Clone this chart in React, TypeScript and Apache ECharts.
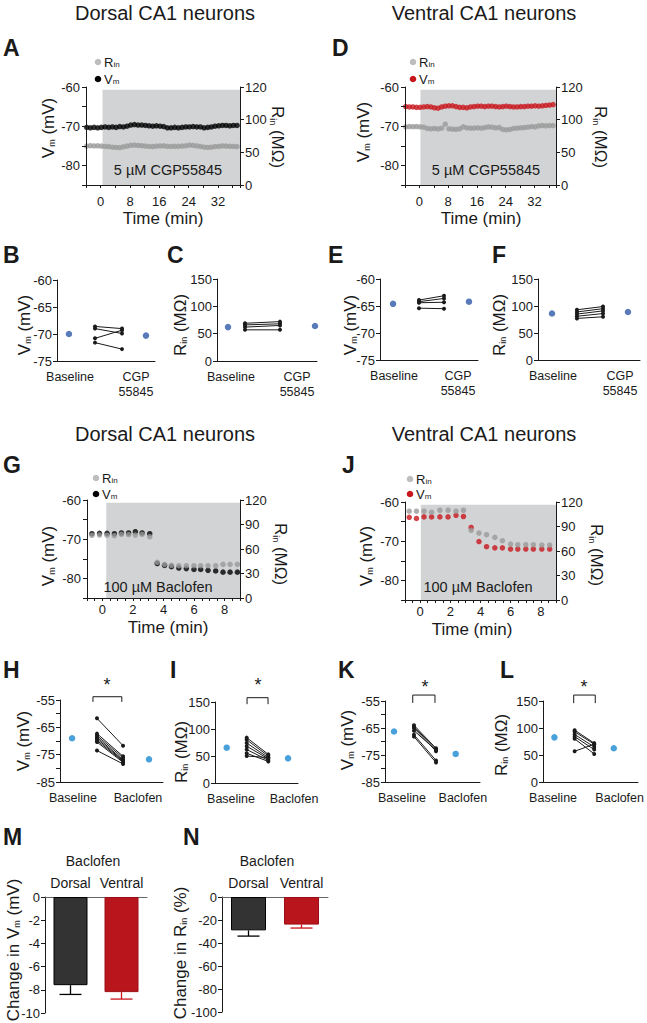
import React, { useEffect, useRef } from "react";
import * as echarts from "echarts";

const FONT = "'Liberation Sans', Arial, Helvetica, sans-serif";
const INK = "#1a1a1a";
const SHADE = "#d1d3d4";
const GRAY = "#9a9a9a";
const LEG_GRAY = "#bdbdbd";
const RED = "#c8161d";
const BLUE_CGP = "#2f5aa8";
const BLUE_BAC = "#1b8ad3";
const BAR_DARK = "#333333";
const BAR_RED = "#b9151c";

// ---------- Panels A / D (CGP55845 time course) ----------
const timesAD = [-3.8, -2.8, -1.8, -0.8, 0.2, 1.2, 2.2, 3.2, 4.2, 5.2, 6.2, 7.2, 8.2, 9.2, 10.2, 11.2, 12.2, 13.2, 14.2, 15.2, 16.2, 17.2, 18.2, 19.2, 20.2, 21.2, 22.2, 23.2, 24.2, 25.2, 26.2, 27.2, 28.2, 29.2, 30.2, 31.2, 32.2, 33.2, 34.2, 35.2, 36.2, 37.2];
const vmA = [-70.3, -70.4, -70.3, -70.4, -70.3, -70.2, -70.3, -70.2, -70.3, -70.1, -70.2, -70.0, -69.7, -69.6, -69.7, -69.7, -69.8, -69.9, -70.0, -69.9, -70.0, -70.1, -70.4, -70.4, -70.3, -70.4, -70.3, -70.2, -70.2, -70.1, -70.2, -70.2, -70.4, -70.3, -70.2, -70.0, -69.9, -69.8, -69.8, -69.9, -69.8, -69.8];
const rinA = [59.5, 60.2, 59.8, 60.0, 59.5, 59.0, 58.8, 57.8, 57.5, 57.3, 58.5, 59.5, 60.8, 61.0, 60.5, 60.2, 59.6, 59.0, 58.8, 59.4, 59.8, 60.0, 59.2, 59.0, 59.3, 59.1, 59.5, 60.0, 61.0, 60.5, 59.8, 59.0, 57.8, 57.5, 57.9, 58.8, 59.0, 59.8, 59.5, 59.3, 59.0, 58.9];
const vmD = [-65.0, -65.1, -65.1, -65.2, -65.2, -65.1, -65.0, -65.1, -65.3, -65.4, -65.1, -64.9, -64.8, -64.8, -65.0, -65.2, -65.2, -65.3, -65.1, -65.0, -64.9, -64.9, -65.0, -64.9, -64.9, -65.0, -65.1, -65.0, -64.9, -65.0, -65.1, -65.1, -65.0, -65.0, -64.9, -64.9, -64.8, -64.9, -64.8, -64.7, -64.6, -64.5];
const rinD = [89.0, 89.5, 89.3, 89.5, 89.0, 88.5, 86.5, 86.0, 86.5, 85.8, 87.0, 93.0, 86.0, 85.5, 85.2, 86.0, 89.0, 87.5, 87.0, 87.2, 87.5, 87.0, 88.0, 89.0, 88.5, 87.5, 88.0, 85.0, 84.5, 85.0, 86.5, 87.0, 87.5, 88.0, 88.5, 89.5, 89.0, 90.5, 91.0, 90.5, 91.0, 91.0];

// ---------- Panels G / J (Baclofen time course) ----------
const timesG = [-0.68, -0.18, 0.31, 0.79, 1.25, 1.72, 2.16, 2.6, 3.1, 3.59, 4.07, 4.52, 5.0, 5.49, 5.99, 6.43, 6.91, 7.41, 7.89, 8.35, 8.83];
const vmG = [-68.6, -68.5, -68.5, -68.6, -68.4, -68.4, -68.1, -68.4, -68.6, -76.2, -76.7, -77.0, -77.35, -77.5, -77.7, -77.7, -77.95, -78.1, -78.4, -78.4, -78.4];
const rinG = [76.8, 77.1, 76.8, 76.3, 78.0, 77.5, 77.1, 78.0, 75.0, 43.7, 41.2, 40.0, 39.6, 39.6, 39.6, 39.6, 39.6, 39.6, 41.2, 41.2, 41.2];
const timesJ = [-0.72, -0.24, 0.26, 0.76, 1.31, 1.85, 2.38, 2.87, 3.38, 3.9, 4.4, 4.95, 5.45, 5.99, 6.47, 7.0, 7.5, 8.06, 8.58];
const vmJ = [-63.9, -64.2, -63.8, -63.8, -63.8, -63.8, -63.4, -63.7, -66.5, -70.1, -71.4, -71.7, -71.7, -72.0, -72.0, -72.0, -72.0, -72.0, -72.0];
const rinJ = [108.7, 108.7, 108.7, 107.5, 109.9, 109.9, 108.7, 109.9, 85.3, 82.0, 80.0, 76.7, 72.6, 68.5, 67.7, 67.7, 67.7, 67.3, 67.3];

// ---------- Paired panels ----------
const cgpLabels = ["Baseline", "CGP\n55845"];
const bacLabels = ["Baseline", "Baclofen"];
const vmBBase = [-68.6, -69.0, -70.8, -71.6];
const vmBDrug = [-69.0, -69.9, -69.3, -72.8];
const vmBMeans = [-70.0, -70.3];
const rinCBase = [69, 66, 62, 57];
const rinCDrug = [72, 68, 65, 57];
const rinCMeans = [62, 64];
const vmEBase = [-63.9, -64.2, -64.4, -65.4];
const vmEDrug = [-63.1, -63.6, -64.3, -65.5];
const vmEMeans = [-64.6, -64.2];
const rinFBase = [93, 89, 85, 81, 77];
const rinFDrug = [99, 95, 91, 86, 80];
const rinFMeans = [86, 89];
const vmHBase = [-61.7, -67.3, -68.0, -68.6, -69.2, -69.8, -70.4, -73.5];
const vmHDrug = [-71.7, -75.6, -76.2, -76.9, -77.2, -77.5, -77.8, -78.4];
const vmHMeans = [-69.0, -76.7];
const rinIBase = [84, 80, 74, 68, 62, 55, 50];
const rinIDrug = [53, 50, 47, 45, 42, 40, 47];
const rinIMeans = [65.4, 45.7];
const vmKBase = [-64.0, -64.5, -65.0, -66.0, -67.5, -68.2];
const vmKDrug = [-72.5, -73.0, -73.6, -73.2, -77.0, -77.8];
const vmKMeans = [-66.3, -74.6];
const rinLBase = [96, 93, 88, 84, 80, 57];
const rinLDrug = [72, 70, 65, 60, 52, 70];
const rinLMeans = [82.7, 62.5];

// ---------- Bar panels ----------
const barCats = ["Dorsal", "Ventral"];
const dVmMeans = [-7.6, -8.2];
const dVmErr = [0.8, 0.6];
const dRinMeans = [-29, -24];
const dRinErr = [5, 3];

function buildOption() {
  const grid: any[] = [];
  const xAxis: any[] = [];
  const yAxis: any[] = [];
  const series: any[] = [];
  const graphic: any[] = [];

  const axLine = { show: true, onZero: false, lineStyle: { color: INK, width: 1 } };
  const tick = (len = 4) => ({ show: true, length: len, lineStyle: { color: INK, width: 1 } });
  const lbl = (extra: any = {}) => ({ color: INK, fontFamily: FONT, fontSize: 13, ...extra });

  const rich = (size: number) => ({
    a: { fontSize: size, fontFamily: FONT, fill: INK, color: INK, lineHeight: size },
    s: {
      fontSize: Math.max(8, Math.round(size * 0.55)),
      fontFamily: FONT,
      fill: "#222222",
      color: "#222222",
      verticalAlign: "bottom",
      lineHeight: 2,
    },
  });
  const txt = (x: number, y: number, text: string, o: any = {}) => {
    graphic.push({
      type: "text",
      x,
      y,
      rotation: o.rot || 0,
      silent: true,
      z: 100,
      style: {
        text,
        fill: INK,
        fontFamily: FONT,
        fontSize: o.size || 13,
        fontWeight: o.weight || "normal",
        align: o.align || "center",
        verticalAlign: "middle",
        rich: o.rich ? rich(o.size || 13) : undefined,
      },
    });
  };
  const dot = (x: number, y: number, color: string) => {
    graphic.push({ type: "circle", x, y, silent: true, z: 100, shape: { r: 3.3 }, style: { fill: color } });
  };

  function timePanel(c: any) {
    const g = grid.push({ left: c.left, top: c.top, width: c.width, height: c.height }) - 1;
    const xi =
      xAxis.push({
        type: "value",
        gridIndex: g,
        min: c.xMin,
        max: c.xMax,
        interval: c.xInterval,
        axisLine: axLine,
        axisTick: tick(3),
        axisLabel: lbl({
          margin: c.xMargin,
          formatter: (v: number) => (v >= 0 && v % c.xStep === 0 && v <= c.xLast ? String(v) : ""),
        }),
        splitLine: { show: false },
        z: 5,
      }) - 1;
    const yl =
      yAxis.push({
        type: "value",
        gridIndex: g,
        position: "left",
        min: -85,
        max: -60,
        interval: 5,
        axisLine: axLine,
        axisTick: tick(4),
        axisLabel: lbl({ margin: 6, formatter: (v: number) => (v % 10 === 0 ? String(v) : "") }),
        splitLine: { show: false },
        z: 5,
      }) - 1;
    const yr =
      yAxis.push({
        type: "value",
        gridIndex: g,
        position: "right",
        min: 0,
        max: c.rMax,
        interval: c.rInterval,
        axisLine: axLine,
        axisTick: tick(4),
        axisLabel: lbl({ margin: 5, formatter: c.rFormat }),
        splitLine: { show: false },
        z: 5,
      }) - 1;
    series.push({
      type: "scatter",
      xAxisIndex: xi,
      yAxisIndex: yl,
      data: [],
      z: 1,
      silent: true,
      markArea: {
        silent: true,
        itemStyle: { color: SHADE },
        data: [[{ coord: [c.shadeStart, -60.7] }, { coord: [c.xMax, -85] }]],
      },
    });
    series.push({
      type: "scatter",
      xAxisIndex: xi,
      yAxisIndex: yl,
      data: c.times.map((t: number, i: number) => [t, c.vm[i]]),
      symbolSize: 5.5,
      itemStyle: { color: c.vmColor },
      z: 3,
    });
    series.push({
      type: "scatter",
      xAxisIndex: xi,
      yAxisIndex: yr,
      data: c.times.map((t: number, i: number) => [t, c.rin[i]]),
      symbolSize: 5.5,
      itemStyle: { color: GRAY },
      z: 4,
    });
  }

  function pairPanel(c: any) {
    const g = grid.push({ left: c.left, top: c.top, width: c.width, height: c.height }) - 1;
    const xi =
      xAxis.push({
        type: "value",
        gridIndex: g,
        min: 0,
        max: 100,
        axisLine: axLine,
        axisTick: { show: false },
        axisLabel: lbl({
          fontSize: 12.5,
          lineHeight: 15,
          margin: 8,
          customValues: c.labelX,
          formatter: (v: number) => {
            const k = c.labelX.indexOf(v);
            return k >= 0 ? c.labels[k] : "";
          },
        }),
        splitLine: { show: false },
      }) - 1;
    const yi =
      yAxis.push({
        type: "value",
        gridIndex: g,
        min: c.yMin,
        max: c.yMax,
        interval: c.yInterval,
        axisLine: axLine,
        axisTick: tick(4),
        axisLabel: lbl({ margin: 5, formatter: c.yFormat || ((v: number) => String(v)) }),
        splitLine: { show: false },
      }) - 1;
    c.base.forEach((b: number, i: number) => {
      series.push({
        type: "line",
        xAxisIndex: xi,
        yAxisIndex: yi,
        data: [
          [c.pairX[0], b],
          [c.pairX[1], c.drug[i]],
        ],
        symbol: "circle",
        symbolSize: 4,
        showSymbol: true,
        lineStyle: { color: INK, width: 1 },
        itemStyle: { color: INK },
        clip: false,
        z: 3,
      });
    });
    series.push({
      type: "scatter",
      xAxisIndex: xi,
      yAxisIndex: yi,
      data: [
        [c.meanX[0], c.means[0]],
        [c.meanX[1], c.means[1]],
      ],
      symbolSize: 6.5,
      itemStyle: { color: c.blue },
      z: 4,
    });
    if (c.bracket) {
      const b = c.bracket;
      series.push({
        type: "line",
        xAxisIndex: xi,
        yAxisIndex: yi,
        data: [
          [b.x0, b.low],
          [b.x0, b.high],
          [b.x1, b.high],
          [b.x1, b.low],
        ],
        symbol: "none",
        lineStyle: { color: INK, width: 1 },
        clip: false,
        z: 3,
      });
    }
  }

  function barPanel(c: any) {
    const g = grid.push({ left: c.left, top: c.top, width: c.width, height: c.height }) - 1;
    const xi =
      xAxis.push({
        type: "category",
        gridIndex: g,
        data: barCats,
        position: "top",
        axisLine: { show: true, onZero: true, lineStyle: { color: "#666", width: 1 } },
        axisTick: { show: false },
        axisLabel: lbl({ fontSize: 14, margin: 7, interval: 0 }),
        splitLine: { show: false },
      }) - 1;
    const yi =
      yAxis.push({
        type: "value",
        gridIndex: g,
        min: c.yMin,
        max: 0,
        interval: c.yInterval,
        axisLine: axLine,
        axisTick: tick(4),
        axisLabel: lbl({ margin: 5 }),
        splitLine: { show: false },
      }) - 1;
    const fills = [BAR_DARK, BAR_RED];
    const borders = ["#000000", "#9a1016"];
    series.push({
      type: "bar",
      xAxisIndex: xi,
      yAxisIndex: yi,
      barWidth: c.barWidth,
      data: c.means.map((m: number, i: number) => ({
        value: m,
        itemStyle: { color: fills[i], borderColor: borders[i], borderWidth: 1 },
      })),
      z: 2,
    });
    const errColors = ["#000000", RED];
    series.push({
      type: "custom",
      xAxisIndex: xi,
      yAxisIndex: yi,
      data: c.means.map((m: number, i: number) => [i, m, c.errs[i]]),
      z: 3,
      renderItem: (params: any, api: any) => {
        const i = api.value(0);
        const m = api.value(1);
        const e = api.value(2);
        const p0 = api.coord([i, m]);
        const p1 = api.coord([i, m - e]);
        const st = { stroke: errColors[i], lineWidth: 1.3 };
        return {
          type: "group",
          children: [
            { type: "line", shape: { x1: p0[0], y1: p0[1], x2: p1[0], y2: p1[1] }, style: st },
            { type: "line", shape: { x1: p1[0] - 11, y1: p1[1], x2: p1[0] + 11, y2: p1[1] }, style: st },
          ],
        };
      },
    });
  }

  // ---- Time-course panels ----
  const rFmtAD = (v: number) => (v === 150 ? "120" : String(v));
  timePanel({
    left: 86, top: 87, width: 154, height: 98,
    xMin: -4, xMax: 38, xInterval: 4, xStep: 8, xLast: 32, xMargin: 10,
    rMax: 150, rInterval: 50, rFormat: rFmtAD,
    times: timesAD, vm: vmA, rin: rinA, vmColor: "#000000", shadeStart: 0.5,
  });
  timePanel({
    left: 405, top: 87, width: 151, height: 98,
    xMin: -4, xMax: 38, xInterval: 4, xStep: 8, xLast: 32, xMargin: 10,
    rMax: 150, rInterval: 50, rFormat: rFmtAD,
    times: timesAD, vm: vmD, rin: rinD, vmColor: RED, shadeStart: 0.3,
  });
  timePanel({
    left: 87, top: 500, width: 153, height: 98,
    xMin: -1, xMax: 9, xInterval: 0.5, xStep: 2, xLast: 8, xMargin: 5,
    rMax: 120, rInterval: 30, rFormat: (v: number) => String(v),
    times: timesG, vm: vmG, rin: rinG, vmColor: "#000000", shadeStart: 0.26,
  });
  timePanel({
    left: 405, top: 502, width: 151, height: 98,
    xMin: -1, xMax: 9, xInterval: 0.5, xStep: 2, xLast: 8, xMargin: 5,
    rMax: 120, rInterval: 30, rFormat: (v: number) => String(v),
    times: timesJ, vm: vmJ, rin: rinJ, vmColor: RED, shadeStart: 0.05,
  });

  // ---- Paired panels ----
  pairPanel({
    left: 57, top: 280, width: 98, height: 81, yMin: -75, yMax: -60, yInterval: 5,
    labels: cgpLabels, labelX: [13.3, 80.6], pairX: [38.8, 66.3], meanX: [12.2, 90.8],
    base: vmBBase, drug: vmBDrug, means: vmBMeans, blue: BLUE_CGP,
  });
  pairPanel({
    left: 217, top: 279, width: 100, height: 82, yMin: 0, yMax: 150, yInterval: 50,
    labels: cgpLabels, labelX: [14, 80], pairX: [28, 63], meanX: [11, 98],
    base: rinCBase, drug: rinCDrug, means: rinCMeans, blue: BLUE_CGP,
  });
  pairPanel({
    left: 380, top: 279, width: 98, height: 81, yMin: -75, yMax: -60, yInterval: 5,
    labels: cgpLabels, labelX: [14.3, 79.6], pairX: [39.8, 65.3], meanX: [13.3, 90.8],
    base: vmEBase, drug: vmEDrug, means: vmEMeans, blue: BLUE_CGP,
  });
  pairPanel({
    left: 538, top: 279, width: 102, height: 81, yMin: 0, yMax: 150, yInterval: 50,
    labels: cgpLabels, labelX: [14.7, 80.4], pairX: [38.2, 63.7], meanX: [13.7, 88.2],
    base: rinFBase, drug: rinFDrug, means: rinFMeans, blue: BLUE_CGP,
  });
  const vmFmt = (v: number) => ((v + 55) % 10 === 0 ? String(v) : "");
  pairPanel({
    left: 60, top: 700, width: 103, height: 82, yMin: -85, yMax: -55, yInterval: 5, yFormat: vmFmt,
    labels: bacLabels, labelX: [12.6, 75.7], pairX: [35.9, 61.2], meanX: [11.7, 86.4],
    base: vmHBase, drug: vmHDrug, means: vmHMeans, blue: BLUE_BAC,
    bracket: { x0: 32, x1: 60, low: -55.7, high: -53.8 },
  });
  pairPanel({
    left: 215, top: 702, width: 83, height: 81, yMin: 0, yMax: 150, yInterval: 50,
    labels: bacLabels, labelX: [19.3, 95.2], pairX: [38.2, 64.2], meanX: [14.1, 88],
    base: rinIBase, drug: rinIDrug, means: rinIMeans, blue: BLUE_BAC,
    bracket: { x0: 38.6, x1: 63.9, low: 146, high: 158 },
  });
  pairPanel({
    left: 385, top: 701, width: 95, height: 81, yMin: -85, yMax: -55, yInterval: 5, yFormat: vmFmt,
    labels: bacLabels, labelX: [17.9, 82], pairX: [30.5, 53.7], meanX: [9.5, 74.4],
    base: vmKBase, drug: vmKDrug, means: vmKMeans, blue: BLUE_BAC,
    bracket: { x0: 29.2, x1: 52.6, low: -55.7, high: -52.8 },
  });
  pairPanel({
    left: 543, top: 701, width: 97, height: 81, yMin: 0, yMax: 150, yInterval: 50,
    labels: bacLabels, labelX: [10.6, 80.7], pairX: [33.3, 53.9], meanX: [12, 74.5],
    base: rinLBase, drug: rinLDrug, means: rinLMeans, blue: BLUE_BAC,
    bracket: { x0: 32.3, x1: 55, low: 146, high: 161 },
  });

  // ---- Bar panels ----
  barPanel({ left: 45, top: 897, width: 102, height: 116, yMin: -10, yInterval: 2, barWidth: 34, means: dVmMeans, errs: dVmErr });
  barPanel({ left: 222, top: 897, width: 106, height: 115, yMin: -100, yInterval: 20, barWidth: 35, means: dRinMeans, errs: dRinErr });

  // ---- Texts ----
  txt(165, 13, "Dorsal CA1 neurons", { size: 20 });
  txt(484, 13, "Ventral CA1 neurons", { size: 20 });
  txt(165, 434, "Dorsal CA1 neurons", { size: 20 });
  txt(484, 434, "Ventral CA1 neurons", { size: 20 });

  const letters: [string, number, number][] = [
    ["A", 3, 48], ["D", 332, 48], ["B", 3, 255], ["C", 167, 255], ["E", 328, 255], ["F", 492, 255],
    ["G", 3, 465], ["J", 342, 465], ["H", 3, 670], ["I", 170, 670], ["K", 338, 670], ["L", 500, 670],
    ["M", 3, 837], ["N", 183, 837],
  ];
  letters.forEach(([t, x, y]) => txt(x, y, t, { size: 23, weight: "bold", align: "left" }));

  // time axis titles
  txt(163, 218, "Time (min)", { size: 17 });
  txt(481, 218, "Time (min)", { size: 17 });
  txt(168, 627, "Time (min)", { size: 17 });
  txt(472, 629, "Time (min)", { size: 17 });

  // drug texts inside shading
  txt(168, 170, "5 µM CGP55845", { size: 14.5 });
  txt(486, 170, "5 µM CGP55845", { size: 14.5 });
  txt(158, 587, "100 µM Baclofen", { size: 14.5 });
  txt(478, 587, "100 µM Baclofen", { size: 14.5 });

  const VM = "{a|V}{s|m}{a| (mV)}";
  const RIN = "{a|R}{s|in}{a| (MΩ)}";
  const up = Math.PI / 2;
  const down = -Math.PI / 2;
  // time panels
  txt(48, 128, VM, { size: 17, rich: true, rot: up });
  txt(277, 137, RIN, { size: 17, rich: true, rot: down });
  txt(363, 132, VM, { size: 17, rich: true, rot: up });
  txt(600, 137, RIN, { size: 17, rich: true, rot: down });
  txt(48, 556, VM, { size: 17, rich: true, rot: up });
  txt(280, 554, RIN, { size: 17, rich: true, rot: down });
  txt(366, 556, VM, { size: 17, rich: true, rot: up });
  txt(596, 555, RIN, { size: 17, rich: true, rot: down });
  // paired panels
  txt(24, 325, VM, { size: 17, rich: true, rot: up });
  txt(180, 325, RIN, { size: 17, rich: true, rot: up });
  txt(350, 325, VM, { size: 17, rich: true, rot: up });
  txt(499, 325, RIN, { size: 17, rich: true, rot: up });
  txt(23, 741, VM, { size: 17, rich: true, rot: up });
  txt(181, 752, RIN, { size: 17, rich: true, rot: up });
  txt(347, 740, VM, { size: 17, rich: true, rot: up });
  txt(501, 745, RIN, { size: 17, rich: true, rot: up });
  // bar panels
  txt(13, 950, "{a|Change in V}{s|m}{a| (mV)}", { size: 17, rich: true, rot: up });
  txt(180, 953, "{a|Change in R}{s|in}{a| (%)}", { size: 17, rich: true, rot: up });
  txt(93, 861, "Baclofen", { size: 14 });
  txt(267, 861, "Baclofen", { size: 14 });

  // stars
  txt(107, 685, "*", { size: 18 });
  txt(258, 685, "*", { size: 18 });
  txt(425, 687, "*", { size: 18 });
  txt(584, 687, "*", { size: 18 });

  // legends
  const legend = (x: number, y1: number, y2: number, vmColor: string) => {
    dot(x, y1, LEG_GRAY);
    dot(x, y2, vmColor);
    txt(x + 6, y1, "{a|R}{s|in}", { size: 13, rich: true, align: "left" });
    txt(x + 6, y2, "{a|V}{s|m}", { size: 13, rich: true, align: "left" });
  };
  legend(98, 62, 79, "#000000");
  legend(413, 62, 79, RED);
  legend(96, 478, 494, "#000000");
  legend(410, 479, 494, RED);

  return {
    animation: false,
    backgroundColor: "#ffffff",
    grid,
    xAxis,
    yAxis,
    series,
    graphic,
  };
}

export default function App() {
  const ref = useRef<HTMLDivElement>(null);
  useEffect(() => {
    if (!ref.current) return;
    const chart = echarts.init(ref.current, undefined, { renderer: "svg" });
    chart.setOption(buildOption() as any);
    return () => chart.dispose();
  }, []);
  return (
    <div
      ref={ref}
      style={{ position: "absolute", left: 0, top: 0, width: 647, height: 1023, background: "#fff" }}
    />
  );
}
